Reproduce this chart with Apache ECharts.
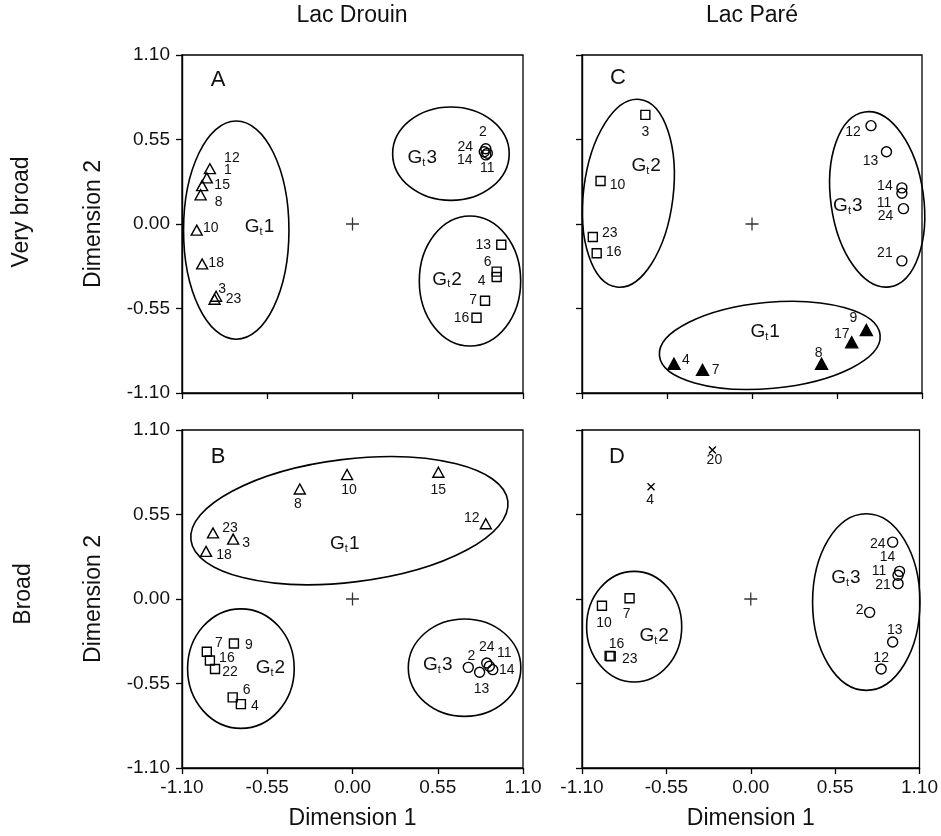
<!DOCTYPE html>
<html>
<head>
<meta charset="utf-8">
<script src="https://cdn.jsdelivr.net/npm/echarts@6/dist/echarts.min.js"></script>
<style>
html, body { margin: 0; padding: 0; background: #fff; }
#chart { width: 941px; height: 836px; }
</style>
</head>
<body>
<div id="chart"></div>
<script>
// ---- data: [dim1, dim2, station] ----
// A  Lac Drouin, very broad
const aG1 = [[-0.92, 0.36, '12'], [-0.94, 0.30, '1'], [-0.97, 0.25, '15'], [-0.98, 0.19, '8'], [-1.005, -0.04, '10'], [-0.97, -0.26, '18'], [-0.88, -0.47, '3'], [-0.89, -0.49, '23']];
const aG2 = [[0.96, -0.135, '13'], [0.93, -0.31, '6'], [0.93, -0.345, '4'], [0.855, -0.50, '7'], [0.80, -0.61, '16']];
const aG3 = [[0.86, 0.49, '2'], [0.85, 0.47, '24'], [0.86, 0.45, '14'], [0.87, 0.46, '11']];
// B  Lac Drouin, broad
const bG1 = [[-0.34, 0.716, '8'], [-0.035, 0.81, '10'], [0.554, 0.825, '15'], [0.86, 0.49, '12'], [-0.90, 0.43, '23'], [-0.77, 0.39, '3'], [-0.945, 0.31, '18']];
const bG2 = [[-0.94, -0.343, '7'], [-0.92, -0.40, '16'], [-0.887, -0.456, '22'], [-0.765, -0.29, '9'], [-0.773, -0.64, '6'], [-0.72, -0.684, '4']];
const bG3 = [[0.747, -0.445, '2'], [0.82, -0.477, '13'], [0.866, -0.417, '24'], [0.883, -0.438, '11'], [0.905, -0.46, '14']];
// C  Lac Paré, very broad
const cG1 = [[-0.505, -0.91, '4'], [-0.32, -0.95, '7'], [0.74, -0.69, '9'], [0.645, -0.77, '17'], [0.45, -0.91, '8']];
const cG2 = [[-0.69, 0.71, '3'], [-0.98, 0.28, '10'], [-1.03, -0.085, '23'], [-1.005, -0.19, '16']];
const cG3 = [[0.77, 0.64, '12'], [0.87, 0.47, '13'], [0.97, 0.235, '14'], [0.97, 0.20, '11'], [0.98, 0.10, '24'], [0.97, -0.24, '21']];
// D  Lac Paré, broad
const dOut = [[-0.25, 0.97, '20'], [-0.65, 0.73, '4']];
const dG2 = [[-0.97, -0.044, '10'], [-0.79, 0.005, '7'], [-0.92, -0.37, '16'], [-0.913, -0.373, '23']];
const dG3 = [[0.925, 0.37, '24'], [0.97, 0.18, '14'], [0.96, 0.155, '11'], [0.96, 0.10, '21'], [0.775, -0.087, '2'], [0.925, -0.28, '13'], [0.85, -0.456, '12']];

// group envelopes: [centre x, centre y, half-width, half-height, tilt deg]
const aRings = [[-0.75, -0.04, 0.34, 0.71, 0], [0.635, 0.458, 0.376, 0.304, 0], [0.758, -0.371, 0.327, 0.423, 0]];
const bRings = [[-0.02, 0.51, 1.03, 0.40, 7], [-0.72, -0.453, 0.344, 0.389, 0], [0.723, -0.447, 0.363, 0.317, 0]];
const cRings = [[-0.80, 0.20, 0.29, 0.615, -7], [0.81, 0.16, 0.30, 0.575, 8], [0.115, -0.79, 0.717, 0.28, 5.3]];
const dRings = [[-0.76, -0.18, 0.31, 0.36, 0], [0.753, -0.02, 0.35, 0.575, 0]];
// group names: [x, y, group number]
const aGroups = [[-0.60, -0.02, 1], [0.45, 0.43, 3], [0.61, -0.36, 2]];
const bGroups = [[-0.05, 0.36, 1], [-0.53, -0.45, 2], [0.55, -0.43, 3]];
const cGroups = [[-0.685, 0.38, 2], [0.62, 0.12, 3], [0.085, -0.70, 1]];
const dGroups = [[-0.63, -0.24, 2], [0.62, 0.14, 3]];
const ticks = [-1.1, -0.55, 0, 0.55, 1.1];

// label nudges (px) for the station numbers, same order as the points
const aG1Off = [[22, -11], [21, -8], [20, 0], [18, 7], [14, -2], [14, -1], [6, -7], [19, 0]];
const aG2Off = [[-18, 0], [-9, -9], [-15, 4], [-12, -1], [-15, 0]];
const aG3Off = [[-3, -17], [-19, -5], [-21, 5], [0, 15]];
const bG1Off = [[-2, 15], [2, 16], [0, 18], [-14, -6], [17, -5], [13, 4], [18, 4]];
const bG2Off = [[12, -9], [17, -2], [15, 3], [15, 2], [14, -7], [14, 2]];
const bG3Off = [[3, -11], [2, 17], [0, -16], [15, -13], [14, 0]];
const cG1Off = [[12, -4], [13, 0], [-13, -12], [-10, -8], [-3, -11]];
const cG2Off = [[0, 17], [17, 4], [17, -4], [17, -1]];
const cG3Off = [[-18, 6], [-16, 9], [-17, -2], [-18, 10], [-18, 8], [-17, -8]];
const dOutOff = [[2, 10], [-1, 13]];
const dG2Off = [[2, 17], [-3, 16], [7, -12], [19, 3]];
const dG3Off = [[-15, 2], [-12, -14], [-19, -4], [-15, 2], [-10, -2], [2, -12], [0, -11]];

const FONT = "'Liberation Sans', Arial, sans-serif";
const INK = '#111';

const grids = [
  { left: 182, top: 55, width: 341, height: 338 },   // A
  { left: 182, top: 430, width: 341, height: 338 },  // B
  { left: 582, top: 55, width: 340, height: 338 },   // C
  { left: 582, top: 430, width: 340, height: 338 }   // D
].map(g => Object.assign(g, { show: true, borderColor: '#000', borderWidth: 1.3, backgroundColor: '#fff' }));

function fmt(v) {
  return (Math.abs(v) < 1e-9 ? 0 : v).toFixed(2);
}

function xAx(gi, showLabel) {
  return {
    gridIndex: gi, type: 'value', min: ticks[0], max: ticks[4], interval: 0.55,
    axisLine: { show: true, onZero: false, lineStyle: { color: '#000', width: 1.4 } },
    axisTick: { show: true, length: 6, lineStyle: { color: '#000', width: 1.3 } },
    axisLabel: { show: showLabel, formatter: fmt, color: INK, fontSize: 19, margin: 10, fontFamily: FONT },
    splitLine: { show: false },
    name: showLabel ? 'Dimension 1' : '', nameLocation: 'middle', nameGap: 39,
    nameTextStyle: { fontSize: 23, color: INK, fontFamily: FONT }
  };
}

function yAx(gi, showLabel) {
  return {
    gridIndex: gi, type: 'value', min: ticks[0], max: ticks[4], interval: 0.55,
    axisLine: { show: true, onZero: false, lineStyle: { color: '#000', width: 1.4 } },
    axisTick: { show: true, length: 6, lineStyle: { color: '#000', width: 1.3 } },
    axisLabel: { show: showLabel, formatter: fmt, color: INK, fontSize: 19, margin: 12, fontFamily: FONT },
    splitLine: { show: false },
    name: showLabel ? 'Dimension 2' : '', nameLocation: 'middle', nameRotate: 90, nameGap: 77,
    nameTextStyle: { fontSize: 23, color: INK, fontFamily: FONT }
  };
}

function points(gi, pts, offs, symbol, size, filled) {
  return {
    type: 'scatter', xAxisIndex: gi, yAxisIndex: gi, symbol: symbol, symbolSize: size, z: 4,
    itemStyle: { color: filled ? '#000' : 'rgba(0,0,0,0)', borderColor: '#000', borderWidth: 1.4, opacity: 1 },
    label: {
      show: true, position: 'inside', formatter: '{b}', color: INK, fontSize: 14,
      fontFamily: FONT, textBorderWidth: 0, align: 'center', verticalAlign: 'middle'
    },
    emphasis: { disabled: true },
    data: pts.map((p, i) => ({ name: p[2], value: [p[0], p[1]], label: { offset: offs[i] } }))
  };
}

function rings(gi, data) {
  return {
    type: 'custom', xAxisIndex: gi, yAxisIndex: gi, silent: true, z: 2, clip: false,
    data: data,
    renderItem: (params, api) => {
      const c = api.coord([api.value(0), api.value(1)]);
      const s = api.size([api.value(2), api.value(3)]);
      return {
        type: 'ellipse', x: c[0], y: c[1], rotation: api.value(4) * Math.PI / 180,
        shape: { cx: 0, cy: 0, rx: s[0], ry: s[1] },
        style: { fill: 'none', stroke: '#000', lineWidth: 1.6 }
      };
    }
  };
}

// "G" with subscript t, then the group number
function groupNames(gi, data) {
  return {
    type: 'custom', xAxisIndex: gi, yAxisIndex: gi, silent: true, z: 5, clip: false,
    data: data,
    renderItem: (params, api) => {
      const c = api.coord([api.value(0), api.value(1)]);
      return {
        type: 'text', x: c[0], y: c[1],
        style: {
          text: '{g|G}{t|t}{g|' + api.value(2) + '}',
          align: 'center', verticalAlign: 'middle', fill: INK,
          rich: {
            g: { fontSize: 19, lineHeight: 20, fill: INK, fontFamily: FONT },
            t: { fontSize: 11, lineHeight: 11, padding: [10, 1, 0, 0], fill: INK, fontFamily: FONT }
          }
        }
      };
    }
  };
}

function origin(gi) {
  return {
    type: 'scatter', xAxisIndex: gi, yAxisIndex: gi, z: 3,
    symbol: 'path://M6,0L6,12M0,6L12,6', symbolSize: 13,
    itemStyle: { color: 'none', borderColor: '#000', borderWidth: 1.3 },
    emphasis: { disabled: true },
    data: [[0, 0]]
  };
}

const series = [
  rings(0, aRings), groupNames(0, aGroups), origin(0),
  points(0, aG1, aG1Off, 'triangle', [11, 10], false),
  points(0, aG2, aG2Off, 'rect', 9, false),
  points(0, aG3, aG3Off, 'circle', 10, false),

  rings(1, bRings), groupNames(1, bGroups), origin(1),
  points(1, bG1, bG1Off, 'triangle', [11, 10], false),
  points(1, bG2, bG2Off, 'rect', 9, false),
  points(1, bG3, bG3Off, 'circle', 10, false),

  rings(2, cRings), groupNames(2, cGroups), origin(2),
  points(2, cG1, cG1Off, 'triangle', [12, 11], true),
  points(2, cG2, cG2Off, 'rect', 9, false),
  points(2, cG3, cG3Off, 'circle', 10, false),

  rings(3, dRings), groupNames(3, dGroups), origin(3),
  points(3, dOut, dOutOff, 'path://M0,0L8,8M8,0L0,8', 7, false),
  points(3, dG2, dG2Off, 'rect', 9, false),
  points(3, dG3, dG3Off, 'circle', 10, false)
];

function txt(t, x, y, size, rot) {
  return {
    type: 'text', x: x, y: y, rotation: rot || 0, silent: true,
    style: { text: t, fill: INK, font: size + 'px ' + FONT, textAlign: 'center', textVerticalAlign: 'middle' }
  };
}

const chart = echarts.init(document.getElementById('chart'));
chart.setOption({
  animation: false,
  backgroundColor: '#fff',
  textStyle: { fontFamily: FONT },
  grid: grids,
  xAxis: [xAx(0, false), xAx(1, true), xAx(2, false), xAx(3, true)],
  yAxis: [yAx(0, true), yAx(1, true), yAx(2, false), yAx(3, false)],
  series: series,
  graphic: [
    txt('Lac Drouin', 352, 16, 23),
    txt('Lac Paré', 752, 16, 23),
    txt('Very broad', 22, 212, 23, Math.PI / 2),
    txt('Broad', 24, 594, 23, Math.PI / 2),
    txt('A', 218, 80, 22),
    txt('B', 218, 457, 22),
    txt('C', 618, 78, 22),
    txt('D', 617, 457, 22)
  ]
});
</script>
</body>
</html>
